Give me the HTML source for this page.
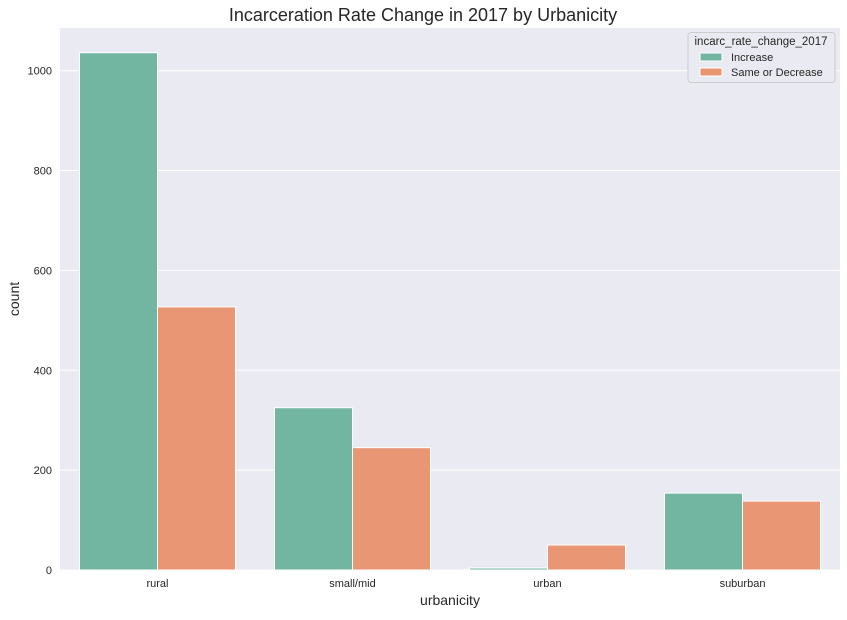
<!DOCTYPE html>
<html><head><meta charset="utf-8"><style>
body{margin:0;background:#fff;font-family:"Liberation Sans",Arial,sans-serif}
</style></head><body>
<svg id="chart" width="847" height="615" xmlns="http://www.w3.org/2000/svg">
<rect x="60" y="28" width="780" height="542" fill="#eaeaf2"/>
<g id="grid"></g><g id="bars"></g><g id="ticks"></g>
<text x="423" y="21" text-anchor="middle" font-size="18" fill="#262626">Incarceration Rate Change in 2017 by Urbanicity</text>
<text x="450" y="605" text-anchor="middle" font-size="14" fill="#262626">urbanicity</text>
<text transform="translate(19,299) rotate(-90)" text-anchor="middle" font-size="14" fill="#262626">count</text>
<g>
<rect x="688" y="32.5" width="147" height="50" rx="3" fill="#eaeaf2" stroke="#cccccc"/>
<text x="761" y="45" text-anchor="middle" font-size="11.5" fill="#262626">incarc_rate_change_2017</text>
<rect x="700" y="53" width="22" height="8" fill="#72b6a1" stroke="#fff"/>
<text x="731" y="61" font-size="11" fill="#262626">Increase</text>
<rect x="700" y="68" width="22" height="8" fill="#e99675" stroke="#fff"/>
<text x="731" y="76" font-size="11" fill="#262626">Same or Decrease</text>
</g>
</svg>
<script>
const categories=["rural","small/mid","urban","suburban"];
const increaseValues=[1036,325,4,154];
const sameValues=[527,245,50,138];
const yTicks=[0,200,400,600,800,1000];
const NS="http://www.w3.org/2000/svg";
const L=60,R=840,T=28,B=570,yMax=1085.5;
const y=v=>B-(v/yMax)*(B-T);
const band=(R-L)/categories.length;
const bw=band*0.4;
function mk(t,a,p){const e=document.createElementNS(NS,t);for(const k in a)e.setAttribute(k,a[k]);p.appendChild(e);return e;}
const grid=document.getElementById('grid'),bars=document.getElementById('bars'),ticks=document.getElementById('ticks');
yTicks.forEach(v=>{
 const g=mk('line',{x1:L,x2:R,y1:y(v),y2:y(v),stroke:'#fff','stroke-width':1},grid);
 
 
 const t=mk('text',{x:L-8,y:y(v)+4,'text-anchor':'end','font-size':11,fill:'#262626'},ticks);
 t.textContent=v;
 
 
});
categories.forEach((c,i)=>{
 const cx=L+band*(i+0.5);
 const b1=mk('rect',{x:cx-bw,y:y(increaseValues[i]),width:bw,height:B-y(increaseValues[i]),fill:'#72b6a1',stroke:'#fff','stroke-width':1},bars);
 
 
 const b2=mk('rect',{x:cx,y:y(sameValues[i]),width:bw,height:B-y(sameValues[i]),fill:'#e99675',stroke:'#fff','stroke-width':1},bars);
 
 
 const t=mk('text',{x:cx,y:B+17,'text-anchor':'middle','font-size':11,fill:'#262626'},ticks);
 t.textContent=c;
 
 
});
</script>
</body></html>
